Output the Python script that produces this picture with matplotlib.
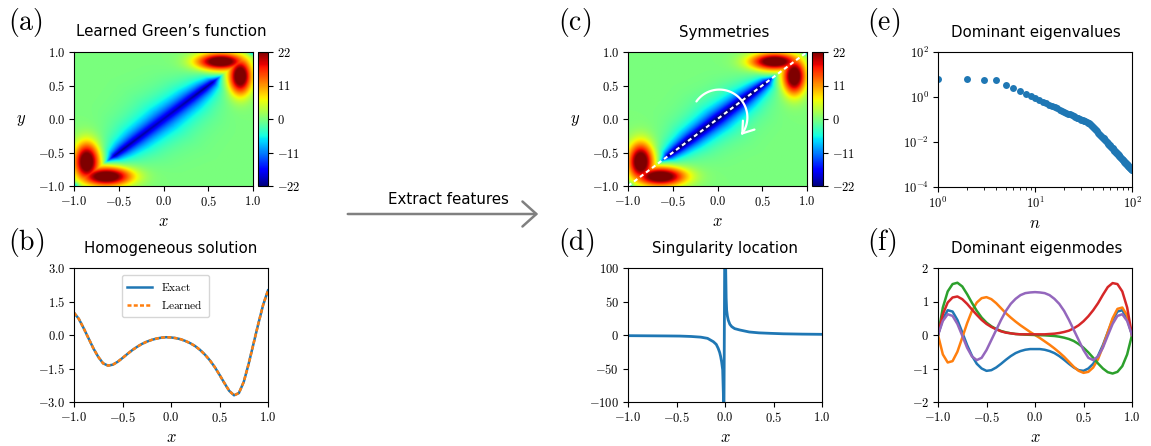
import numpy as np
import matplotlib
matplotlib.use("Agg")
import matplotlib.pyplot as plt
from matplotlib.patches import FancyArrowPatch
from matplotlib.path import Path

plt.rcParams['mathtext.fontset'] = 'cm'

W, H = 1151, 446

# ---- data ----
# Green's function features (panels a and c), values in colour units
band_u = [-0.68, -0.62, -0.55, -0.45, -0.3, 0.0, 0.3, 0.45, 0.55, 0.62, 0.68]
band_peak_learned = [0, 12, 21, 22, 21, 20, 21, 22, 21, 12, 0]
band_w_learned = [0.03, 0.07, 0.12, 0.16, 0.21, 0.25, 0.21, 0.16, 0.12, 0.07, 0.03]
band_peak_exact = [0, 12, 24, 25, 25, 25, 25, 25, 24, 12, 0]
band_w_exact = [0.03, 0.06, 0.10, 0.13, 0.17, 0.2, 0.17, 0.13, 0.10, 0.06, 0.03]
lobe_cx = [-0.86, 0.64]        # lobes on the y > x side
lobe_cy = [-0.64, 0.86]
lobe_sx = [0.10, 0.19]
lobe_sy = [0.20, 0.09]
lobe_amp = [27, 27]
corner_c = [-1.0, 1.0]
corner_amp = [-9, -9]
cbar_ticks = [-22, -11, 0, 11, 22]

# panel b: homogeneous solution
x_grid = [-1.0, -0.95, -0.9, -0.85, -0.8, -0.75, -0.7, -0.65, -0.6, -0.55, -0.5,
          -0.45, -0.4, -0.35, -0.3, -0.25, -0.2, -0.15, -0.1, -0.05, 0.0,
          0.05, 0.1, 0.15, 0.2, 0.25, 0.3, 0.35, 0.4, 0.45, 0.5,
          0.55, 0.6, 0.65, 0.7, 0.75, 0.8, 0.85, 0.9, 0.95, 1.0]
u_hom = [1.0, 0.72, 0.3, -0.15, -0.6, -0.98, -1.27, -1.37, -1.33, -1.2, -1.03,
         -0.85, -0.68, -0.53, -0.4, -0.3, -0.22, -0.16, -0.12, -0.1, -0.11,
         -0.14, -0.19, -0.27, -0.37, -0.5, -0.67, -0.88, -1.13, -1.43, -1.78,
         -2.15, -2.5, -2.7, -2.6, -2.1, -1.3, -0.4, 0.5, 1.35, 2.0]

# panel d: singularity location
x_sing = [-1.0, -0.8, -0.6, -0.465, -0.35, -0.25, -0.18, -0.12, -0.09, -0.07,
          -0.055, -0.045, -0.035, -0.024, -0.017, -0.012,
          0.003, 0.007, 0.012, 0.017, 0.025, 0.034, 0.05, 0.07, 0.1, 0.155,
          0.25, 0.35, 0.465, 0.6, 0.8, 1.0]
y_sing = [-1.0, -1.2, -1.4, -1.6, -2.2, -3.2, -5.0, -10, -14, -20,
          -26, -32, -40, -52, -87, -150,
          300, 100, 55, 37, 28, 22, 16, 12.4, 9.5, 7.4,
          4.5, 3.2, 2.5, 1.8, 1.3, 1.0]

# panel e: dominant eigenvalues (log10), n = 1..100
eig_log10 = [0.80, 0.78, 0.74, 0.74, 0.53, 0.40, 0.27, 0.13, 0.04, -0.05,
             -0.133, -0.208, -0.278, -0.342, -0.402, -0.458, -0.511, -0.561, -0.608, -0.652,
             -0.694, -0.735, -0.773, -0.810, -0.846, -0.880, -0.913, -0.944, -0.975, -1.004,
             -1.033, -1.060, -1.087, -1.113, -1.138, -1.17, -1.20, -1.24, -1.28, -1.33,
             -1.382, -1.433, -1.483, -1.531, -1.578, -1.625, -1.670, -1.714, -1.757, -1.800,
             -1.842, -1.882, -1.923, -1.962, -2.001, -2.039, -2.076, -2.112, -2.149, -2.184,
             -2.219, -2.253, -2.286, -2.320, -2.352, -2.384, -2.416, -2.447, -2.478, -2.509,
             -2.539, -2.568, -2.597, -2.626, -2.654, -2.682, -2.710, -2.737, -2.763, -2.790,
             -2.816, -2.842, -2.868, -2.893, -2.918, -2.942, -2.967, -2.991, -3.015, -3.038,
             -3.061, -3.084, -3.107, -3.129, -3.152, -3.174, -3.196, -3.217, -3.238, -3.260]
n_eig = list(range(1, 101))

# panel f: dominant eigenmodes
mode_1 = [0, 0.48, 0.74, 0.70, 0.45, 0.08, -0.3, -0.62, -0.86, -1.0, -1.07,
          -1.05, -0.97, -0.86, -0.74, -0.63, -0.54, -0.48, -0.44, -0.42, -0.42,
          -0.42, -0.44, -0.48, -0.54, -0.63, -0.74, -0.86, -0.97, -1.05, -1.07,
          -1.0, -0.86, -0.62, -0.3, 0.08, 0.45, 0.70, 0.74, 0.48, 0]
mode_2 = [0, -0.58, -0.82, -0.78, -0.5, -0.08, 0.35, 0.72, 0.97, 1.1, 1.13,
          1.07, 0.95, 0.8, 0.65, 0.52, 0.4, 0.29, 0.19, 0.09, 0,
          -0.09, -0.19, -0.29, -0.4, -0.52, -0.65, -0.8, -0.95, -1.07, -1.13,
          -1.1, -0.97, -0.72, -0.35, 0.08, 0.5, 0.78, 0.82, 0.58, 0]
mode_3 = [0, 0.82, 1.3, 1.52, 1.56, 1.45, 1.22, 0.96, 0.72, 0.52, 0.37,
          0.26, 0.18, 0.12, 0.08, 0.05, 0.03, 0.02, 0.01, 0.005, 0.0,
          -0.005, -0.01, -0.02, -0.03, -0.05, -0.08, -0.12, -0.18, -0.27, -0.38,
          -0.52, -0.68, -0.85, -1.0, -1.11, -1.15, -1.1, -0.93, -0.58, 0]
mode_4 = [0, 0.62, 0.97, 1.12, 1.15, 1.07, 0.93, 0.76, 0.6, 0.45, 0.33,
          0.24, 0.17, 0.11, 0.07, 0.05, 0.03, 0.02, 0.02, 0.02, 0.02,
          0.02, 0.02, 0.03, 0.04, 0.06, 0.09, 0.13, 0.2, 0.29, 0.41,
          0.56, 0.74, 0.95, 1.2, 1.43, 1.55, 1.52, 1.3, 0.82, 0]
mode_5 = [0, 0.42, 0.62, 0.57, 0.33, -0.02, -0.38, -0.64, -0.75, -0.68, -0.45,
          -0.15, 0.15, 0.45, 0.72, 0.93, 1.08, 1.19, 1.25, 1.27, 1.28,
          1.27, 1.25, 1.19, 1.08, 0.93, 0.72, 0.45, 0.15, -0.15, -0.45,
          -0.68, -0.75, -0.64, -0.38, -0.02, 0.33, 0.57, 0.62, 0.42, 0]
modes = [mode_1, mode_2, mode_3, mode_4, mode_5]


def rect(x0, y0, x1, y1):
    return [x0 / W, 1 - y1 / H, (x1 - x0) / W, (y1 - y0) / H]


def fx(x):
    return x / W


def fy(y):
    return 1 - y / H


def green_field(band_peak, band_w, n=400):
    g = np.linspace(-1, 1, n)
    X, Y = np.meshgrid(g, g)
    U = (X + Y) / 2
    D = np.abs(X - Y)
    G = -np.interp(U, band_u, band_peak) * np.exp(-D / np.interp(U, band_u, band_w))
    for cx, cy, sx, sy, a in zip(lobe_cx, lobe_cy, lobe_sx, lobe_sy, lobe_amp):
        up = a * np.exp(-((X - cx) / sx) ** 2 / 2 - ((Y - cy) / sy) ** 2 / 2)
        lo = a * np.exp(-((Y - cx) / sx) ** 2 / 2 - ((X - cy) / sy) ** 2 / 2)
        G += np.where(Y >= X, up, lo)
    for c, a in zip(corner_c, corner_amp):
        G += a * np.exp(-((X - c) ** 2 + (Y - c) ** 2) / (2 * 0.035 ** 2))
    return G


TICK = 9
LAB = 12
TITLE = 10.8
lin_ticks = [-1.0, -0.5, 0.0, 0.5, 1.0]


def mlab(v, fmt):
    return ['$' + fmt.format(t) + '$' for t in v]


def style(ax):
    ax.tick_params(direction='out', length=3.5, width=0.8, labelsize=TICK, pad=3)


def xaxis_lin(ax):
    ax.set_xlim(-1, 1)
    ax.set_xticks(lin_ticks, mlab(lin_ticks, '{:.1f}'))
    ax.set_xlabel('$x$', fontsize=LAB, labelpad=2)


fig = plt.figure(figsize=(W / 100, H / 100), dpi=100)

panels = [((74, 253, 258, 268), 8, "Learned Green\u2019s function", 171,
           green_field(band_peak_learned, band_w_learned), '(a)', False),
          ((628, 807, 812, 823), 558, 'Symmetries', 724,
           green_field(band_peak_exact, band_w_exact), '(c)', True)]
for (x0, x1, cb0, cb1), lx, title, tx, G, letter, extra in panels:
    ax = fig.add_axes(rect(x0, 52, x1, 186))
    im = ax.imshow(G, extent=[-1, 1, -1, 1], origin='lower', cmap='jet',
                   vmin=-22, vmax=22, aspect='auto', interpolation='bilinear')
    xaxis_lin(ax)
    ax.set_yticks(lin_ticks, mlab(lin_ticks, '{:.1f}'))
    ax.set_ylim(-1, 1)
    ax.set_ylabel('$y$', fontsize=LAB, rotation=0, labelpad=12, va='center')
    style(ax)
    cax = fig.add_axes(rect(cb0, 52, cb1, 186))
    cb = fig.colorbar(im, cax=cax)
    cb.set_ticks(cbar_ticks, labels=mlab(cbar_ticks, '{:d}'))
    cax.tick_params(direction='out', length=3.5, width=0.8, labelsize=TICK, pad=3)
    fig.text(fx(tx), fy(36.5), title, ha='center', va='baseline', fontsize=TITLE)
    fig.text(fx(lx), fy(22.5), r'$\mathrm{' + letter + '}$',
             ha='left', va='center', fontsize=20)
    if extra:
        ax.plot([-1, 1], [-1, 1], color='white', lw=1.5, ls=(0, (2.0, 1.6)))
        # curved arrow (clockwise) around the diagonal
        ang = np.linspace(np.deg2rad(145), np.deg2rad(-39), 60)
        verts = np.column_stack([0.021 + 0.313 * np.cos(ang), 0.024 + 0.415 * np.sin(ang)])
        codes = [Path.MOVETO] + [Path.LINETO] * (len(verts) - 1)
        arr = FancyArrowPatch(path=Path(verts, codes), arrowstyle='->,head_length=0.5,head_width=0.35',
                              mutation_scale=15, lw=1.6, color='white')
        ax.add_patch(arr)

# (b) homogeneous solution
axb = fig.add_axes(rect(74, 268, 268, 402))
axb.plot(x_grid, u_hom, color='C0', lw=1.8, label=r'$\mathrm{Exact}$')
axb.plot(x_grid, u_hom, color='C1', lw=1.8, ls=(0, (1.6, 0.9)), label=r'$\mathrm{Learned}$')
xaxis_lin(axb)
axb.set_ylim(-3, 3)
yb = [-3.0, -1.5, 0.0, 1.5, 3.0]
axb.set_yticks(yb, mlab(yb, '{:.1f}'))
axb.legend(loc='upper center', fontsize=8.2, handlelength=2.2, borderpad=0.5,
           bbox_to_anchor=(0.47, 0.99))
style(axb)
fig.text(fx(171), fy(252.5), 'Homogeneous solution', ha='center', va='baseline', fontsize=TITLE)
fig.text(fx(8), fy(242.5), r'$\mathrm{(b)}$', ha='left', va='center', fontsize=20)

# (d) singularity location
axd = fig.add_axes(rect(628, 268, 822, 402))
axd.plot(x_sing, y_sing, color='C0', lw=2)
xaxis_lin(axd)
axd.set_ylim(-100, 100)
yd = [-100, -50, 0, 50, 100]
axd.set_yticks(yd, mlab(yd, '{:d}'))
style(axd)
fig.text(fx(725), fy(252.5), 'Singularity location', ha='center', va='baseline', fontsize=TITLE)
fig.text(fx(558), fy(242.5), r'$\mathrm{(d)}$', ha='left', va='center', fontsize=20)

# (e) eigenvalues
axe = fig.add_axes(rect(938, 52, 1132, 187))
axe.plot(n_eig, 10.0 ** np.array(eig_log10), 'o', color='C0', ms=5, mec='none')
axe.set_xscale('log')
axe.set_yscale('log')
axe.set_xlim(1, 100)
axe.set_ylim(1e-4, 1e2)
axe.set_xticks([1, 10, 100], [r'$10^{0}$', r'$10^{1}$', r'$10^{2}$'])
axe.set_yticks([1e-4, 1e-2, 1, 1e2], [r'$10^{-4}$', r'$10^{-2}$', r'$10^{0}$', r'$10^{2}$'])
axe.yaxis.set_minor_locator(matplotlib.ticker.NullLocator())
axe.set_xlabel('$n$', fontsize=LAB, labelpad=2)
style(axe)
axe.tick_params(which='minor', direction='out', length=2, width=0.6)
fig.text(fx(1036), fy(36.5), 'Dominant eigenvalues', ha='center', va='baseline', fontsize=TITLE)
fig.text(fx(867), fy(22.5), r'$\mathrm{(e)}$', ha='left', va='center', fontsize=20)

# (f) eigenmodes
axf = fig.add_axes(rect(938, 268, 1132, 402))
for i, m in enumerate(modes):
    axf.plot(x_grid, m, color='C%d' % i, lw=1.8)
xaxis_lin(axf)
axf.set_ylim(-2, 2)
yf = [-2, -1, 0, 1, 2]
axf.set_yticks(yf, mlab(yf, '{:d}'))
style(axf)
fig.text(fx(1037), fy(252.5), 'Dominant eigenmodes', ha='center', va='baseline', fontsize=TITLE)
fig.text(fx(867), fy(242.5), r'$\mathrm{(f)}$', ha='left', va='center', fontsize=20)

# central arrow
fig.patches.append(FancyArrowPatch((fx(345), fy(214)), (fx(541), fy(214)),
                                   transform=fig.transFigure,
                                   arrowstyle='->,head_length=0.5,head_width=0.45',
                                   mutation_scale=20, lw=1.8, color='#808080'))
fig.text(fx(448), fy(200), 'Extract features', ha='center', va='center', fontsize=10.8)

fig.savefig('out.png', dpi=100)
